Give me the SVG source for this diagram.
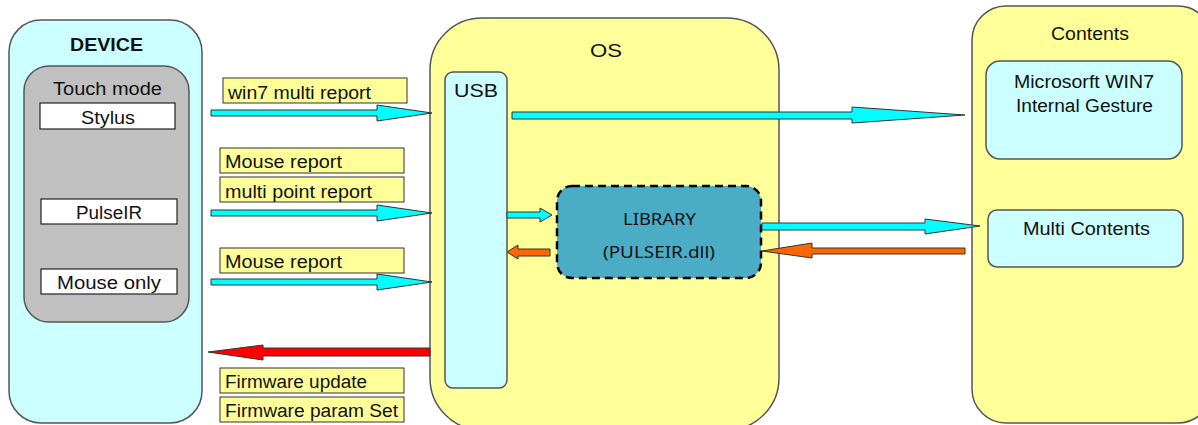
<svg xmlns="http://www.w3.org/2000/svg" width="1198" height="425" viewBox="0 0 1198 425">
<style>
text{font-family:"Liberation Sans",Arial,sans-serif;font-size:18px;fill:#111}
.c{text-anchor:middle}
.big{fill:#ccffff;stroke:#555;stroke-width:1.5}
.yel{fill:#ffff99;stroke:#555;stroke-width:1.5}
.gray{fill:#c0c0c0;stroke:#555;stroke-width:1.5}
.wbox{fill:#fff;stroke:#222;stroke-width:1.2}
.lbl{fill:#ffff99;stroke:#333;stroke-width:1}
.cy{fill:#00ffff;stroke:#333;stroke-width:1}
.or{fill:#ff6600;stroke:#333;stroke-width:1}
.rd{fill:#ff0000;stroke:#333;stroke-width:1}
.lib{font-family:"Noto Sans","Open Sans",sans-serif;font-size:17px;fill:#111}
</style>
<rect width="1198" height="425" fill="#fff"/>
<g id="device">
<rect class="big" x="9" y="20" width="193" height="403" rx="32"/>
<text x="70" y="51" textLength="73" lengthAdjust="spacingAndGlyphs" style="font-weight:bold">DEVICE</text>
<rect class="gray" x="24" y="66" width="165" height="256" rx="25"/>
<text x="53" y="95" textLength="109" lengthAdjust="spacingAndGlyphs">Touch mode</text>
<g id="stylus"><rect class="wbox" x="40" y="103" width="135" height="26"/><text x="81" y="124" textLength="54" lengthAdjust="spacingAndGlyphs">Stylus</text></g>
<g id="pulseir"><rect class="wbox" x="41" y="199" width="136" height="25"/><text x="76" y="219" textLength="66" lengthAdjust="spacingAndGlyphs">PulseIR</text></g>
<g id="mouseonly"><rect class="wbox" x="41" y="269" width="136" height="25"/><text x="57" y="289" textLength="104" lengthAdjust="spacingAndGlyphs">Mouse only</text></g>
</g>
<g id="os">
<rect class="yel" x="430" y="18" width="349" height="412" rx="52"/>
<text x="590" y="57" textLength="32" lengthAdjust="spacingAndGlyphs">OS</text>
<g id="usb"><rect class="big" x="445" y="72" width="62" height="316" rx="8"/><text x="454" y="97" textLength="44" lengthAdjust="spacingAndGlyphs">USB</text></g>
<g id="library"><rect x="557" y="186" width="204" height="92" rx="15" fill="#4bacc6" stroke="#000" stroke-width="2.5" stroke-dasharray="8,5"/>
<text class="lib" x="623" y="225" textLength="73" lengthAdjust="spacingAndGlyphs">LIBRARY</text>
<text class="lib" x="603" y="258" textLength="112" lengthAdjust="spacingAndGlyphs">(PULSEIR.dll)</text></g>
</g>
<g id="contents">
<rect class="yel" x="972" y="6" width="240" height="417" rx="34"/>
<text x="1051" y="40" textLength="78" lengthAdjust="spacingAndGlyphs">Contents</text>
<g id="win7"><rect class="big" x="986" y="61" width="196" height="98" rx="14"/>
<text x="1014" y="88" textLength="140" lengthAdjust="spacingAndGlyphs">Microsorft WIN7</text><text x="1016" y="112" textLength="137" lengthAdjust="spacingAndGlyphs">Internal Gesture</text></g>
<g id="multi"><rect class="big" x="988" y="210" width="195" height="57" rx="9"/>
<text x="1023" y="235" textLength="127" lengthAdjust="spacingAndGlyphs">Multi Contents</text></g>
</g>
<g id="labels">
<rect class="lbl" x="223" y="78" width="184" height="25"/><text x="228" y="99" textLength="143" lengthAdjust="spacingAndGlyphs">win7 multi report</text>
<rect class="lbl" x="220" y="148" width="184" height="25"/><text x="225" y="168" textLength="117" lengthAdjust="spacingAndGlyphs">Mouse report</text>
<rect class="lbl" x="220" y="177" width="184" height="25"/><text x="225" y="198" textLength="147" lengthAdjust="spacingAndGlyphs">multi point report</text>
<rect class="lbl" x="220" y="248" width="184" height="25"/><text x="225" y="268" textLength="117" lengthAdjust="spacingAndGlyphs">Mouse report</text>
<rect class="lbl" x="220" y="368" width="184" height="25"/><text x="225" y="388" textLength="142" lengthAdjust="spacingAndGlyphs">Firmware update</text>
<rect class="lbl" x="220" y="397" width="184" height="25"/><text x="225" y="417" textLength="173" lengthAdjust="spacingAndGlyphs">Firmware param Set</text>
</g>
<g id="connectors">
<path class="cy" d="M211,110 H377 V105 L432,113 L377,121 V116 H211 Z"/>
<path class="cy" d="M211,210 H377 V205 L432,213 L377,221 V216 H211 Z"/>
<path class="cy" d="M211,279 H377 V274 L432,282 L377,290 V285 H211 Z"/>
<path class="rd" d="M430,348 H263 V345 L208,352 L263,360 V356 H430 Z"/>
<path class="cy" d="M512,112 H852 V107 L965,115 L852,123 V119 H512 Z"/>
<path class="cy" d="M507,212 H540 V208 L552,215 L540,222 V218 H507 Z"/>
<path class="or" d="M550,249 H518 V245 L507,252 L518,259 V256 H550 Z"/>
<path class="cy" d="M762,223 H925 V219 L980,226 L925,234 V230 H762 Z"/>
<path class="or" d="M965,248 H812 V243 L762,251 L812,258 V254 H965 Z"/>
</g>
</svg>
